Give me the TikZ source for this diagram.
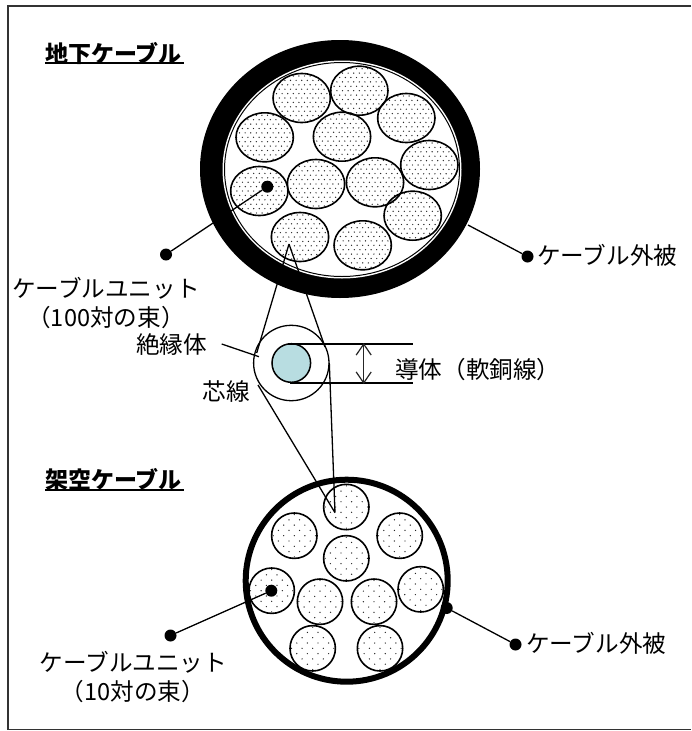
\documentclass[tikz,border=0pt]{standalone}
\usepackage{fontspec}
\usetikzlibrary{arrows.meta}
\setmainfont{Noto Sans CJK JP}
\begin{document}
\begin{tikzpicture}[x=1pt,y=-1pt,
  thinline/.style={draw=black,line width=1.3pt},
  unit/.style={draw=black,line width=1.6pt},
  blob/.style={circle,fill=black,inner sep=0pt,minimum size=#1},
  label/.style={font=\fontsize{23.6}{26}\selectfont,inner sep=0pt,align=center},
  heading/.style={font=\bfseries\fontsize{23}{26}\selectfont,inner sep=0pt}]
\useasboundingbox (0,0) rectangle (691,731);
\draw[line width=1.3pt,black!80] (691,6) -- (8,6) -- (8,729.5) -- (691,729.5);
% upper cable
\fill[black] (340,169) ellipse [x radius=140,y radius=129];
\fill[white] (342,169.5) ellipse [x radius=119.5,y radius=109];
\draw[line width=1pt] (342,169.5) ellipse [x radius=117.5,y radius=107];
\foreach \x/\y in {301.7/98,359.3/90.7,406.3/118,264.7/137.3,342/136.7,429.3/165,259.3/191,316/184,375/182.3,412.7/215.7,300/237,362.7/245.3}{
  \begin{scope}
    \clip (\x,\y) ellipse [x radius=28.7,y radius=24.5];
    \foreach \i in {-6,...,6}\foreach \j in {-6,...,6}{
      \pgfmathsetmacro\dx{\x+5.6*\i+2.8*mod(\j+6,2)}
      \pgfmathsetmacro\dy{\y+4.4*\j}
      \fill[black!85] (\dx,\dy) circle [radius=.7];
    }
  \end{scope}
  \draw[unit] (\x,\y) ellipse [x radius=28.7,y radius=24.5];
}
% lower cable
\draw[line width=6pt] (346.7,580.7) circle [radius=101];
\foreach \x/\y in {346.3/507,294.3/535.7,399.7/535.7,346.3/558.3,271.7/590.7,320/601.7,374/601.7,420.7/589.3,312.7/648.3,380/648.3}{
  \begin{scope}
    \clip (\x,\y) circle [radius=22.7];
    \foreach \i in {-3,...,3}\foreach \j in {-6,...,6}{
      \pgfmathsetmacro\dx{\x+10.6*\i+5.3*mod(\j+6,2)}
      \pgfmathsetmacro\dy{\y+5.3*\j}
      \fill[black!85] (\dx,\dy) circle [radius=.7];
    }
  \end{scope}
  \draw[unit] (\x,\y) circle [radius=22.7];
}
% core
\coordinate (apexU) at (289,244);
\coordinate (apexL) at (335,512.7);
\coordinate (coneUL) at (256.7,353);
\coordinate (coneUR) at (325,347);
\coordinate (coneLL) at (258,385);
\coordinate (coneLR) at (329.3,363);
\draw[thinline] (apexU) -- (coneUL) (apexU) -- (coneUR) (apexL) -- (coneLL) (apexL) -- (coneLR);
\node[draw=black,line width=1.3pt,circle,inner sep=0pt,minimum size=75.4pt] (ins) at (291.3,363) {};
\node[draw=black,line width=1.5pt,fill={rgb,255:red,184;green,221;blue,225},circle,inner sep=0pt,minimum size=38.6pt] (cond) at (291.3,363) {};
\coordinate (bt) at (288,344);
\coordinate (bb) at (290,383);
\coordinate (et) at (412.7,344);
\coordinate (eb) at (413.3,383);
\draw[line width=1.8pt] (bt) -- (et) (bb) -- (eb);
\coordinate (dimT) at (363.7,343);
\coordinate (dimB) at (363.7,384);
\draw[line width=1.2pt,black!85,{Straight Barb[length=11pt,width=15pt]}-{Straight Barb[length=11pt,width=15pt]}] (dimT) -- (dimB);
\node[label,anchor=west] (conductor) at (395,369.5) {導体（軟銅線）};
\node[label,anchor=east] (insl) at (207,345) {絶縁体};
\coordinate (insA) at (221.7,344);
\coordinate (insB) at (259,356.7);
\draw[thinline] (insA) -- (insB);
\node[label] (core) at (226.5,391.5) {芯線};
% headings
\node[heading,anchor=west] (h1) at (45,53.5) {地下ケーブル};
\draw[line width=2pt] (45,62.5) -- (184,62.5);
\node[heading,anchor=west] (h2) at (45,480) {架空ケーブル};
\draw[line width=2pt] (45,489.5) -- (184,489.5);
% labels
\node[label] (u1) at (106,288) {ケーブルユニット};
\node[label] (u1b) at (106,318) {（100対の束）};
\node[blob=12pt] (du1a) at (267.3,186.7) {};
\node[blob=12pt] (du1b) at (166,254.5) {};
\draw[thinline] (du1a) -- (du1b);
\node[blob=12pt] (dc1) at (527.5,256.5) {};
\coordinate (c1) at (468,225);
\draw[thinline] (dc1) -- (c1);
\node[label,anchor=west] (t1) at (537,255.5) {ケーブル外被};
\node[blob=12pt] (du2a) at (271.3,590.7) {};
\node[blob=12pt] (du2b) at (170.5,635.5) {};
\draw[thinline] (du2a) -- (du2b);
\node[blob=12pt] (dc2a) at (446.7,608) {};
\node[blob=12pt] (dc2b) at (515.5,644.5) {};
\draw[thinline] (dc2a) -- (dc2b);
\node[label,anchor=west] (t2) at (526,643.5) {ケーブル外被};
\node[label] (u2) at (133.5,662.5) {ケーブルユニット};
\node[label] (u2b) at (133,691.5) {（10対の束）};
\end{tikzpicture}
\end{document}
